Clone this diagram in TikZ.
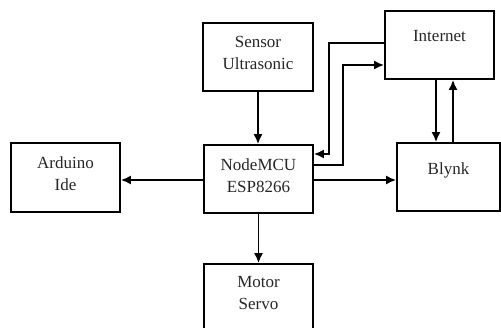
\documentclass[tikz,border=0pt]{standalone}
\usepackage{fontspec}
\setmainfont{Liberation Serif}
\usetikzlibrary{arrows.meta}
\begin{document}
\begin{tikzpicture}[x=1pt,y=-1pt,
  box/.style={draw=black,line width=1.8pt,rectangle,minimum width=109pt,minimum height=68pt,inner sep=0pt},
  lbl/.style={anchor=base,align=center,inner sep=0pt,font=\fontsize{17}{22.5}\selectfont,text=black!85},
  arr/.style={line width=1.7pt,-{Latex[length=10pt,width=9pt]}}]
\useasboundingbox (0,0) rectangle (501,328);
\node[box,minimum width=110pt] (sensor) at (258,57) {};
\node[box] (internet) at (439.5,45) {};
\node[box] (nodemcu) at (258.5,179) {};
\node[box,minimum height=69pt] (arduino) at (65.5,177.5) {};
\node[box,minimum width=103pt] (blynk) at (448.5,177) {};
\node[box] (motor) at (258.5,298) {};
\node[lbl] (sensorT) at (258,70) {Sensor\\Ultrasonic};
\node[lbl] (internetT) at (439.5,42) {Internet};
\node[lbl] (nodemcuT) at (258.5,193) {NodeMCU\\ESP8266};
\node[lbl] (arduinoT) at (65.5,191) {Arduino\\Ide};
\node[lbl] (blynkT) at (448.5,175) {Blynk};
\node[lbl] (motorT) at (258.5,310) {Motor\\Servo};
\coordinate (y43) at (0,43);
\coordinate (y154) at (0,154);
\coordinate (y165) at (0,165);
\coordinate (y65) at (0,65);
\coordinate (y180) at (0,180);
\coordinate (xa) at (329,0);
\coordinate (xb) at (343,0);
\coordinate (xc) at (436,0);
\coordinate (xd) at (453,0);
\draw[arr] (sensor.south) -- (sensor.south |- nodemcu.north);
\draw[arr] (nodemcu.west |- y180) -- (arduino.east |- y180);
\draw[arr] (nodemcu.east |- y180) -- (blynk.west |- y180);
\draw[arr] (nodemcu.south) -- (motor.north);
\draw[arr] (internet.west |- y43) -| (xa |- y154) -- (nodemcu.east |- y154);
\draw[arr] (nodemcu.east |- y165) -| (xb |- y65) -- (internet.west |- y65);
\draw[arr] (xc |- internet.south) -- (xc |- blynk.north);
\draw[arr] (xd |- blynk.north) -- (xd |- internet.south);
\end{tikzpicture}
\end{document}
